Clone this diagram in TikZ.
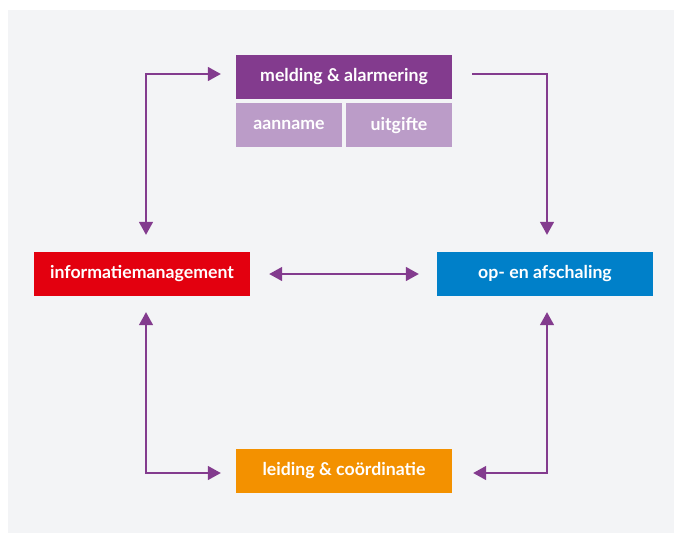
\documentclass[tikz,border=0pt]{standalone}
\usepackage{fontspec}
\setmainfont{Lato}
\usepackage{tikz}
\usetikzlibrary{arrows.meta,positioning}
\definecolor{bgGray}{HTML}{F3F4F6}
\definecolor{mPurple}{HTML}{833B8E}
\definecolor{lPurple}{HTML}{BB9CC8}
\definecolor{iRed}{HTML}{E3000F}
\definecolor{oBlue}{HTML}{0080C9}
\definecolor{lOrange}{HTML}{F39100}
\tikzset{%
  >={Triangle[width=14pt,length=13pt]},
  % Specifications for style of nodes:
     base/.style = {rectangle, draw=none, text=white,
                           minimum width=216pt, minimum height=44pt,
                           inner sep=0pt, text centered, font=\fontsize{17.7}{21}\selectfont\bfseries},
    alarmBlock/.style = {base, fill=mPurple},
    subBlock/.style = {base, minimum width=106pt, fill=lPurple},
    infoBlock/.style = {base, fill=iRed},
    scaleBlock/.style = {base, fill=oBlue},
    leadBlock/.style = {base, fill=lOrange},
    link/.style = {draw=mPurple, line width=1.5pt, color=mPurple},
}
\begin{document}
\begin{tikzpicture}[x=1pt, y=-1pt]
  \useasboundingbox (0,0) rectangle (674,533);
  \fill[bgGray] (8,10) rectangle (674,533);

  % Specification of nodes (position, etc.)
  \node (melding)  [alarmBlock] at (344,77) {melding \& alarmering};
  \node (aanname)  [subBlock, below=4pt of melding.south west, anchor=north west] {aanname};
  \node (uitgifte) [subBlock, below=4pt of melding.south east, anchor=north east] {uitgifte};

  \node (info)    [infoBlock]  at (142,274) {informatiemanagement};
  \node (opaf)    [scaleBlock] at (545,274) {op- en afschaling};
  \node (leiding) [leadBlock]  at (344,471) {leiding \& coördinatie};

  % Specification of lines between nodes specified above
  \draw[link, <->, shorten <=17pt, shorten >=15pt] ([xshift=4pt]info.north) |- ([yshift=3pt]melding.west);
  \draw[link, ->, shorten <=20pt, shorten >=17pt] ([yshift=3pt]melding.east) -| ([xshift=2pt]opaf.north);

  \draw[link, <->, shorten <=19pt, shorten >=18pt] (info.east) -- (opaf.west);

  \draw[link, <->, shorten <=16pt, shorten >=15pt] ([xshift=4pt]info.south) |- ([yshift=-2pt]leiding.west);
  \draw[link, <->, shorten <=16pt, shorten >=21pt] ([xshift=2pt]opaf.south) |- ([yshift=-2pt]leiding.east);

\end{tikzpicture}
\end{document}
